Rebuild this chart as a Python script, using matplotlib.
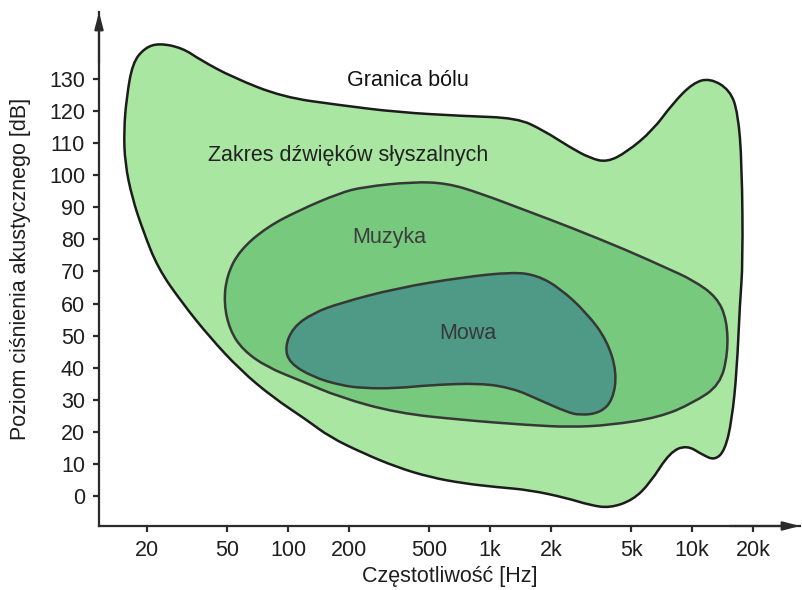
"""Auditory field: hearing range, music and speech areas on a log-frequency axis."""
import matplotlib
matplotlib.use("Agg")
import matplotlib.pyplot as plt
import numpy as np
from matplotlib.patches import PathPatch
from matplotlib.path import Path

plt.rcParams["font.family"] = ["Liberation Sans", "DejaVu Sans"]

# Outline of the whole audible range (clockwise from the low-frequency peak)
hearing_hz = [23, 30, 37, 53, 94, 180, 346, 734, 1360, 1830, 2480, 3120, 3790,
              4760, 6400, 8040, 10100, 12250, 15400, 16870, 17640, 17840, 17240,
              16660, 15740, 14540, 12970, 11310, 9420, 7760, 6180, 5090, 3920,
              3120, 2400, 1574, 1080, 734, 504, 346, 235, 161, 124, 84, 58, 41,
              30, 22.7, 19.1, 16.9, 15.6, 15.4, 15.9, 17.0, 19.5]
hearing_db = [141.1, 139.6, 135.8, 130.5, 124.3, 121.8, 119.6, 118.4, 117.8,
              114.0, 108.7, 105.3, 104.0, 107.2, 114.0, 122.4, 128.7, 130.2,
              126.5, 119.3, 103.7, 72.6, 60.1, 39.3, 23.7, 14.3, 11.2, 12.8,
              15.9, 13.7, 4.0, -1.2, -3.7, -2.8, -0.6, 1.9, 2.8, 4.0, 5.9, 9.0,
              13.4, 18.4, 23.7, 30.8, 39.3, 49.5, 60.1, 71.0, 82.9, 93.1, 103.7,
              114.0, 124.3, 134.9, 139.6]

# Music area
music_hz = [49.8, 57.7, 78.6, 114, 180, 235, 415, 611, 890, 1574, 2484, 4756,
            7500, 10094, 13270, 14870, 15040, 13740, 10094, 6930, 3920, 2484,
            1574, 734, 346, 180, 114, 78.6, 59.8, 51.5, 48.1]
music_db = [68.8, 76.6, 83.8, 89.1, 94.4, 96.3, 97.9, 97.5, 94.4, 88.5, 83.8,
            76.6, 71.0, 67.3, 62.0, 54.8, 44.5, 34.6, 29.0, 24.6, 22.1, 21.5,
            22.1, 23.7, 25.9, 30.8, 36.1, 40.2, 45.5, 51.7, 60.1]

# Speech area
speech_hz = [96.4, 106, 133, 180, 346, 734, 1298, 1706, 2216, 3016, 3786, 4244,
             4054, 3498, 2784, 2400, 1764, 1298, 890, 504, 346, 235, 180, 133,
             102]
speech_db = [46.4, 52.6, 57.0, 60.1, 64.8, 68.2, 69.8, 68.8, 64.8, 57.0, 48.6,
             38.6, 29.9, 25.9, 25.2, 26.2, 29.9, 33.6, 35.2, 34.6, 33.6, 33.6,
             34.6, 37.1, 41.4]

y_ticks = list(range(0, 140, 10))
x_ticks = [20, 50, 100, 200, 500, 1000, 2000, 5000, 10000, 20000]
x_tick_labels = ["20", "50", "100", "200", "500", "1k", "2k", "5k", "10k", "20k"]


def closed_outline(freq, level):
    """Smooth closed path through the traced points (quadratic B-spline,
    built in log-frequency so it follows the log axis)."""
    lx = np.log10(np.asarray(freq, float))
    ly = np.asarray(level, float)
    mx = (lx + np.roll(lx, -1)) / 2
    my = (ly + np.roll(ly, -1)) / 2
    verts = [(mx[-1], my[-1])]
    codes = [Path.MOVETO]
    for i in range(len(lx)):
        verts += [(lx[i], ly[i]), (mx[i], my[i])]
        codes += [Path.CURVE3, Path.CURVE3]
    verts = np.array(verts)
    verts[:, 0] = 10 ** verts[:, 0]
    return Path(verts, codes)


fig = plt.figure(figsize=(8.02, 5.90), dpi=100)
ax = fig.add_axes([99 / 802, 64 / 590, 701 / 802, 514 / 590])
ax.set_xscale("log")
ax.set_xlim(11.6, 34200)
ax.set_ylim(-9.3, 150.8)

regions = [
    (hearing_hz, hearing_db, "#a9e6a1", "#1c1c1c"),
    (music_hz, music_db, "#76c97d", "#363836"),
    (speech_hz, speech_db, "#4f9a86", "#363836"),
]
for hz, db, face, edge in regions:
    ax.add_patch(PathPatch(closed_outline(hz, db), facecolor=face,
                           edgecolor=edge, linewidth=1.8, zorder=2))

ax.text(392, 129.6, "Granica bólu", fontsize=15.5, color="#111111",
        ha="center", va="center", zorder=3)
ax.text(198, 106.2, "Zakres dźwięków słyszalnych", fontsize=15.5,
        color="#222222", ha="center", va="center", zorder=3)
ax.text(316, 80.7, "Muzyka", fontsize=15.5, color="#3d3d3d",
        ha="center", va="center", zorder=3)
ax.text(776, 50.8, "Mowa", fontsize=15.5, color="#383838",
        ha="center", va="center", zorder=3)

# axes with arrow heads
for side in ("top", "right"):
    ax.spines[side].set_visible(False)
for side in ("left", "bottom"):
    ax.spines[side].set_color("#2b2b2b")
    ax.spines[side].set_linewidth(1.6)
arrow = dict(arrowstyle="-|>,head_length=1.0,head_width=0.26", color="#2b2b2b",
             lw=1.6, shrinkA=0, shrinkB=0)
ax.annotate("", xy=(0, 1.0), xytext=(0, 0.9), xycoords="axes fraction",
            arrowprops=arrow, annotation_clip=False)
ax.annotate("", xy=(1.0, 0), xytext=(0.9, 0), xycoords="axes fraction",
            arrowprops=arrow, annotation_clip=False)

ax.set_yticks(y_ticks)
ax.set_xticks(x_ticks)
ax.set_xticklabels(x_tick_labels)
ax.minorticks_off()
ax.tick_params(axis="both", direction="out", length=4, width=1.6,
               color="#2b2b2b", labelsize=15.5, labelcolor="#1e1e1e", pad=6)

ax.set_xlabel("Częstotliwość [Hz]", fontsize=15.5, color="#1e1e1e", labelpad=4)
ax.set_ylabel("Poziom ciśnienia akustycznego [dB]", fontsize=15.5,
              color="#1e1e1e", labelpad=13)

fig.savefig("out.png", dpi=100, facecolor="white")
